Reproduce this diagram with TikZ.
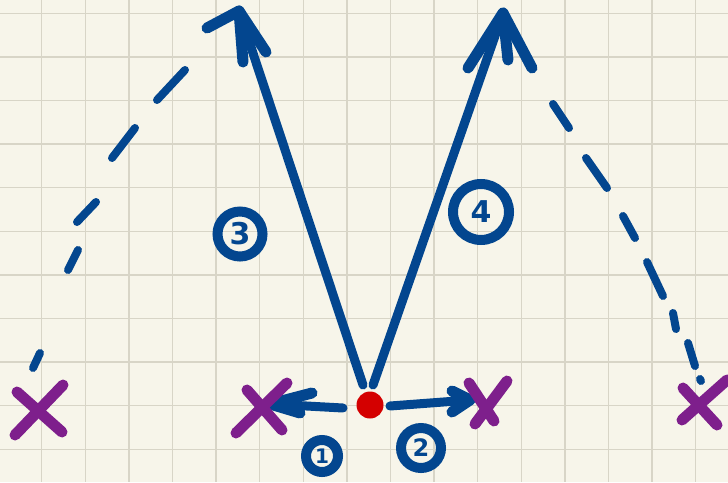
\documentclass[tikz,border=0pt]{standalone}
\usepackage{fontspec}
\setmainfont{DejaVu Sans}
\definecolor{paper}{HTML}{F7F5EA}
\definecolor{gridc}{HTML}{D8D5C7}
\definecolor{ink}{HTML}{03468F}
\definecolor{dotred}{HTML}{D40000}
\definecolor{xpurple}{HTML}{7E1F8C}
\begin{document}
\begin{tikzpicture}[x=1pt,y=-1pt,
  pen/.style={ink,line width=9pt,line cap=round,line join=round},
  headpen/.style={ink,line width=11pt,line cap=round,line join=round},
  dashpen/.style={ink,line width=8pt,line cap=round},
  cross/.style={xpurple,line width=11pt,line cap=round},
  numlabel/.style={circle,draw=ink,line width=10pt,text=ink,inner sep=0pt,
    font=\bfseries\fontsize{30}{30}\selectfont}]
\fill[paper] (0,0) rectangle (728,482);
\useasboundingbox (0,0) rectangle (728,482);
% grid
\foreach \k in {0,...,15}
  \draw[gridc,line width=1.4pt] ({41.7+43.6*\k},0) -- ({41.7+43.6*\k},482);
\foreach \k in {0,...,10}
  \draw[gridc,line width=1.4pt] (0,{13.3+43.6*\k}) -- (728,{13.3+43.6*\k});
% red dot
\node[circle,fill=dotred,minimum size=27pt,inner sep=0pt] (o) at (370,405) {};
% named points
\coordinate (ls) at (363,385);
\coordinate (lt) at (239,11);
\coordinate (rs) at (373,385);
\coordinate (rt) at (503,13);
\coordinate (hl0) at (343,408);
\coordinate (hlt) at (270,404);
\coordinate (hr0) at (390,406);
\coordinate (hrt) at (470,400);
% up-left arrow
\draw[pen] (ls) -- (lt);
\draw[headpen] (207,28) -- (lt) -- (243,62);
\draw[headpen] (lt) -- (266,52);
% up-right arrow
\draw[pen] (rs) -- (rt);
\draw[headpen] (468,68) -- (rt) -- (508,60);
\draw[headpen] (rt) -- (532,68);
% left horizontal arrow
\draw[pen] (hl0) -- (hlt);
\draw[headpen] (312,393) -- (hlt) -- (300,413);
% right horizontal arrow
\draw[pen] (hr0) -- (hrt);
\draw[headpen] (452,391) -- (hrt) -- (452,412);
% purple crosses
\draw[cross] (17,392) -- (62,432);
\draw[cross] (63,385) -- (15,435);
\draw[cross] (247,390) -- (282,430);
\draw[cross] (287,383) -- (236,433);
\draw[cross] (469,383) -- (494,421);
\draw[cross] (507,381) -- (475,424);
\draw[cross] (683,388) -- (717,425);
\draw[cross] (727,380) -- (682,420);
% left dashed arc
\draw[dashpen] (33,368) -- (40,353);
\draw[dashpen] (68,270) -- (78,250);
\draw[dashpen] (77,222) -- (96,202);
\draw[dashpen] (112,158) -- (135,128);
\draw[dashpen] (157,100) -- (185,70);
% right dashed arc
\draw[dashpen] (553,104) -- (569,128);
\draw[dashpen] (586,158) -- (607,188);
\draw[dashpen] (623,216) -- (635,238);
\draw[dashpen] (647,262) -- (663,296);
\draw[dashpen] (673,313) -- (676,329);
\draw[dashpen] (688,343) -- (695,366);
\draw[dashpen] (700,379) -- (701,381);
% circled labels
\node[numlabel,minimum size=45pt] (n3) at (240,234) {3};
\node[numlabel,minimum size=56pt] (n4) at (481,212) {4};
\node[numlabel,minimum size=32pt,font=\bfseries\fontsize{20}{20}\selectfont] (n1) at (322,456) {1};
\node[numlabel,minimum size=40pt,font=\bfseries\fontsize{24}{24}\selectfont] (n2) at (421,448) {2};
\end{tikzpicture}
\end{document}
